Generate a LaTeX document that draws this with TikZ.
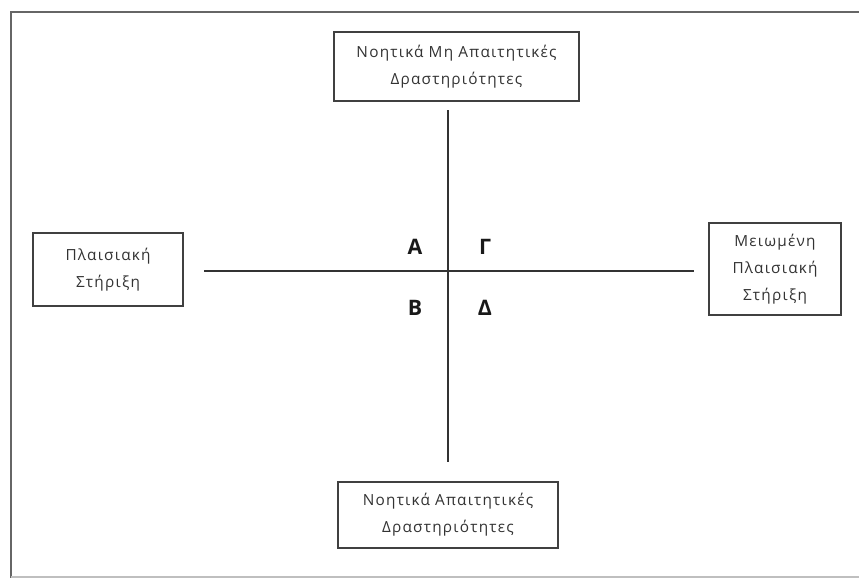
\documentclass[tikz,border=0pt]{standalone}
\usepackage{fontspec}
\setmainfont{Open Sans}
\newfontfamily\boxfont{Open Sans}[LetterSpace=8]
\begin{document}
\begin{tikzpicture}[x=0.75pt,y=-0.75pt,
  boxnode/.style={draw=black!75,line width=0.8pt,align=center,inner sep=0pt,
    font=\boxfont\fontsize{11.5}{20.3}\selectfont,text=black!80},
  axisline/.style={draw=black!80,line width=1.1pt},
  framepart/.style={draw=black!60,line width=1.1pt},
  quad/.style={font=\fontsize{16}{18}\selectfont\bfseries,text=black!90}]
\useasboundingbox (0,0) rectangle (859,578);
\fill[white] (0,0) rectangle (859,578);
% frame
\coordinate (ftl) at (11,12);
\coordinate (ftr) at (859,12);
\coordinate (fbl) at (11,578);
\coordinate (fbr) at (859,577);
\draw[framepart] (ftr) -- (ftl) -- (fbl);
\draw[draw=black!25,line width=0.8pt] (11,577) -- (fbr);
% boxes
\node[boxnode,minimum width=245*0.75pt,minimum height=69*0.75pt] (top) at (456.5,66.5)
  {Νοητικά Μη Απαιτητικές\\Δραστηριότητες};
\node[boxnode,minimum width=150*0.75pt,minimum height=73*0.75pt] (left) at (108,269.5)
  {Πλαισιακή\\Στήριξη};
\node[boxnode,minimum width=132*0.75pt,minimum height=92*0.75pt] (right) at (775,269)
  {Μειωμένη\\Πλαισιακή\\Στήριξη};
\node[boxnode,minimum width=220*0.75pt,minimum height=66*0.75pt] (bottom) at (448,515)
  {Νοητικά Απαιτητικές\\Δραστηριότητες};
% axes
\coordinate (vt) at (448,110);
\coordinate (vb) at (448,462);
\coordinate (hl) at (204,271);
\coordinate (hr) at (694,271);
\draw[axisline] (vt) -- (vb);
\draw[axisline] (hl) -- (hr);
% quadrant labels
\node[quad] (qa) at (415,247) {Α};
\node[quad] (qg) at (485,247) {Γ};
\node[quad] (qb) at (415,308) {Β};
\node[quad] (qd) at (485,308) {Δ};
\end{tikzpicture}
\end{document}
